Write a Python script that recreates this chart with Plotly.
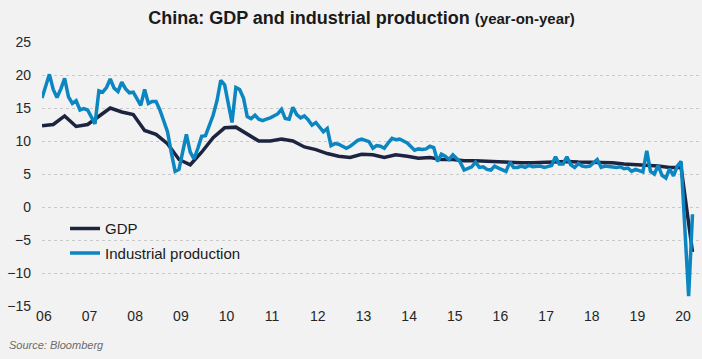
import pandas as pd
import plotly.graph_objects as go

# ---- data ----
# GDP, % y/y, quarterly, Q4 2005 .. Q1 2020 (quarter-end)
gdp_start = "2005-12-31"
gdp_yoy = [
    12.3,
    12.5, 13.8, 12.2, 12.5,
    13.8, 15.0, 14.4, 14.0,
    11.6, 11.0, 9.6, 7.2,
    6.4, 8.3, 10.5, 12.0,
    12.1, 11.0, 10.0, 10.0,
    10.3, 10.0, 9.1, 8.7,
    8.1, 7.7, 7.5, 8.0,
    7.9, 7.5, 7.9, 7.7,
    7.4, 7.5, 7.2, 7.2,
    7.0, 7.0, 6.9, 6.8,
    6.7, 6.7, 6.7, 6.8,
    6.9, 6.9, 6.8, 6.8,
    6.8, 6.7, 6.5, 6.4,
    6.4, 6.2, 6.0, 6.0,
    -6.8,
]

# Industrial production, % y/y, monthly, Dec 2005 .. Mar 2020 (January not reported)
ip_start = "2005-12-31"
ip_yoy = [
    16.5,
    None, 20.1, 17.8, 16.6, 17.9, 19.5, 16.7, 15.7, 16.1, 14.7, 14.9, 14.7,
    None, 12.6, 17.6, 17.4, 18.1, 19.4, 18.0, 17.5, 18.9, 17.9, 17.3, 17.4,
    None, 15.4, 17.8, 15.7, 16.0, 16.0, 14.7, 12.8, 11.4, 8.2, 5.4, 5.7,
    None, 11.0, 8.3, 7.3, 8.9, 10.7, 10.8, 12.3, 13.9, 16.1, 19.2, 18.5,
    None, 12.8, 18.1, 17.8, 16.5, 13.7, 13.4, 13.9, 13.3, 13.1, 13.3, 13.5,
    None, 14.1, 14.8, 13.4, 13.3, 15.1, 14.0, 13.5, 13.8, 13.2, 12.4, 12.8,
    None, 11.4, 11.9, 9.3, 9.6, 9.5, 9.2, 8.9, 9.2, 9.6, 10.1, 10.3,
    None, 9.9, 8.9, 9.3, 9.2, 8.9, 9.7, 10.4, 10.2, 10.3, 10.0, 9.7,
    None, 8.6, 8.8, 8.7, 8.8, 9.2, 9.0, 6.9, 8.0, 7.7, 7.2, 7.9,
    None, 6.8, 5.6, 5.9, 6.1, 6.8, 6.0, 6.1, 5.7, 5.6, 6.2, 5.9,
    None, 5.4, 6.8, 6.0, 6.0, 6.2, 6.0, 6.3, 6.1, 6.1, 6.2, 6.0,
    None, 6.3, 7.6, 6.5, 6.5, 7.6, 6.4, 6.0, 6.6, 6.2, 6.1, 6.2,
    None, 7.2, 6.0, 6.2, 6.1, 6.0, 6.0, 6.1, 5.8, 5.9, 5.4, 5.7,
    None, 5.3, 8.5, 5.4, 5.0, 6.3, 4.8, 4.4, 5.8, 4.7, 6.2, 6.9,
    None, -13.5, -1.1,
]

year_ticks = list(range(2006, 2021))
year_labels = [f"{y % 100:02d}" for y in year_ticks]
y_ticks = [25, 20, 15, 10, 5, 0, -5, -10, -15]

gdp_dates = pd.date_range(gdp_start, periods=len(gdp_yoy), freq="QE")
ip_dates = pd.date_range(ip_start, periods=len(ip_yoy), freq="ME")

FONT = "Liberation Sans, Arial, sans-serif"
BG = "#f2f2f2"
GDP_COLOR = "#1d2440"
IP_COLOR = "#0b86c1"

fig = go.Figure()
fig.add_trace(go.Scatter(
    x=gdp_dates, y=gdp_yoy, mode="lines", name="GDP", legendgroup="gdp",
    line=dict(color=GDP_COLOR, width=3.5),
))
fig.add_trace(go.Scatter(
    x=ip_dates, y=ip_yoy, mode="lines", name="Industrial production", legendgroup="ip",
    line=dict(color=IP_COLOR, width=3.5), connectgaps=True,
))

fig.update_layout(
    width=702, height=359,
    margin=dict(l=42, r=2, t=42, b=53),
    paper_bgcolor=BG, plot_bgcolor=BG,
    font=dict(family=FONT, size=14, color="#262626"),
    title=dict(
        text="<b>China: GDP and industrial production <span style='font-size:15px'>(year-on-year)</span></b>",
        x=0.515, xanchor="center", xref="container",
        y=1 - 18 / 359, yanchor="middle", yref="container",
        font=dict(family=FONT, size=18, color="#1a1a1a"),
    ),
    showlegend=True,
    legend=dict(
        x=0.035, y=0.355, xanchor="left", yanchor="top",
        bgcolor="rgba(0,0,0,0)", borderwidth=0,
        font=dict(family=FONT, size=15, color="#1a1a1a"),
        itemwidth=30, tracegroupgap=2,
    ),
    xaxis=dict(
        type="date",
        range=["2005-12-31", "2020-05-30"],
        tickvals=[f"{y}-01-15" for y in year_ticks],
        ticktext=year_labels,
        showgrid=False, zeroline=False, showline=False,
        ticks="", tickfont=dict(size=14),
    ),
    yaxis=dict(
        range=[-15, 25],
        tickvals=y_ticks,
        showgrid=True, gridcolor="#c9c9c9", griddash="dot", gridwidth=1,
        zeroline=False, showline=False, ticks="",
        tickfont=dict(size=14), ticklabelstandoff=10,
    ),
)

fig.add_annotation(
    text="<i>Source: Bloomberg</i>",
    xref="paper", yref="paper",
    x=-35 / 658, y=-39 / 264, xanchor="left", yanchor="middle",
    showarrow=False, font=dict(family=FONT, size=11, color="#6b6b6b"),
)

fig.write_html(
    "out.html",
    config={"displayModeBar": False},
    post_script="document.body.style.margin='0';document.body.style.background='#f2f2f2';",
)
